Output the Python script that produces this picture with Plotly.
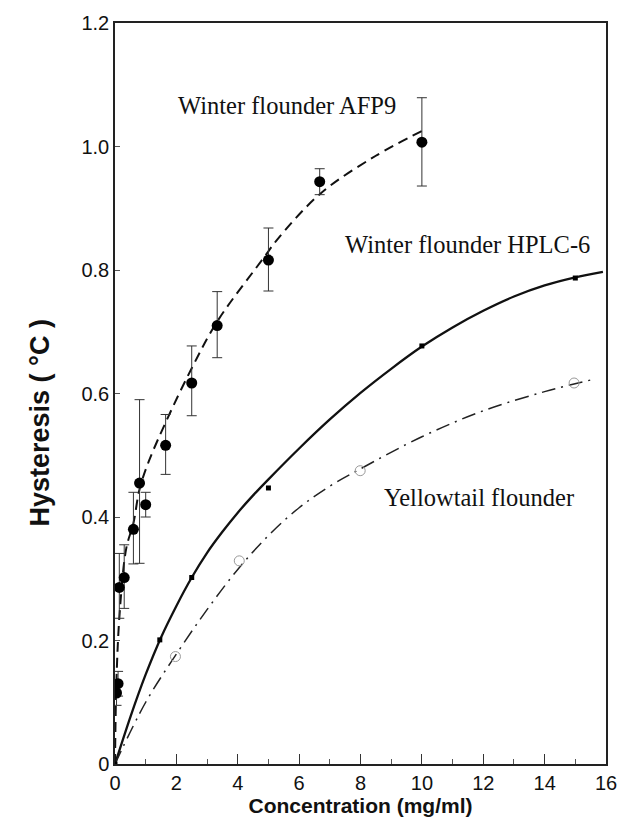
import plotly.graph_objects as go

# ---- data ----
afp9_x = [0.05, 0.1, 0.14, 0.3, 0.6, 0.8, 1.0, 1.65, 2.5, 3.33, 5.0, 6.67, 10.0]
afp9_y = [0.115, 0.13, 0.286, 0.302, 0.38, 0.455, 0.42, 0.516, 0.617, 0.71, 0.816, 0.943, 1.007]
afp9_err_plus = [0.02, 0.02, 0.055, 0.053, 0.06, 0.135, 0.02, 0.05, 0.06, 0.055, 0.052, 0.021, 0.072]
afp9_err_minus = [0.02, 0.02, 0.05, 0.05, 0.056, 0.13, 0.02, 0.047, 0.053, 0.052, 0.05, 0.021, 0.071]

afp9_fit_x = [0, 0.05, 0.16, 0.37, 0.6, 0.8, 1.1, 1.65, 2.5, 3.35, 4.85, 5.3, 6.7, 8.5, 10.0]
afp9_fit_y = [0, 0.14, 0.25, 0.35, 0.39, 0.445, 0.49, 0.553, 0.641, 0.718, 0.82, 0.85, 0.924, 0.985, 1.025]

hplc_x = [0, 1.46, 2.5, 5.0, 10.0, 15.0]
hplc_y = [0, 0.201, 0.302, 0.447, 0.677, 0.787]

hplc_fit_x = [0, 0.5, 1, 1.5, 2, 2.5, 3, 3.5, 4, 4.5, 5, 6, 7, 8, 9, 10, 11, 12, 13, 14, 15, 15.9]
hplc_fit_y = [0, 0.076, 0.145, 0.205, 0.256, 0.302, 0.342, 0.376, 0.407, 0.435, 0.461, 0.511,
              0.558, 0.601, 0.64, 0.676, 0.707, 0.734, 0.757, 0.775, 0.788, 0.797]

yt_x = [1.97, 4.05, 7.99, 14.96]
yt_y = [0.174, 0.329, 0.475, 0.617]

yt_fit_x = [0, 1, 2, 3, 4, 5, 6, 7, 8, 10, 12, 14, 15.6]
yt_fit_y = [0, 0.1, 0.178, 0.25, 0.315, 0.37, 0.415, 0.45, 0.478, 0.53, 0.572, 0.603, 0.623]

x_ticks = [0, 2, 4, 6, 8, 10, 12, 14, 16]
x_tick_labels = ["0", "2", "4", "6", "8", "10", "12", "14", "16"]
y_ticks = [0, 0.2, 0.4, 0.6, 0.8, 1.0, 1.2]
y_tick_labels = ["0", "0.2", "0.4", "0.6", "0.8", "1.0", "1.2"]

labels = ["Winter flounder AFP9", "Winter flounder HPLC-6", "Yellowtail flounder"]
label_x = [5.6, 11.5, 11.85]
label_y = [1.066, 0.842, 0.431]

fig = go.Figure()

# fitted curves
fig.add_trace(go.Scatter(x=afp9_fit_x, y=afp9_fit_y, mode="lines", line_shape="spline",
                         line=dict(color="#111", width=2, dash="10px,6px"), hoverinfo="skip"))
fig.add_trace(go.Scatter(x=hplc_fit_x, y=hplc_fit_y, mode="lines", line_shape="spline",
                         line=dict(color="#111", width=2.3, smoothing=0.8), hoverinfo="skip"))
fig.add_trace(go.Scatter(x=yt_fit_x, y=yt_fit_y, mode="lines", line_shape="spline",
                         line=dict(color="#222", width=1.5, dash="14px,6px,2px,6px"), hoverinfo="skip"))

# data points
fig.add_trace(go.Scatter(x=afp9_x, y=afp9_y, mode="markers",
                         marker=dict(symbol="circle", size=11, color="#000"),
                         error_y=dict(type="data", array=afp9_err_plus, arrayminus=afp9_err_minus,
                                      symmetric=False, color="#333", thickness=1, width=5)))
fig.add_trace(go.Scatter(x=hplc_x, y=hplc_y, mode="markers",
                         marker=dict(symbol="square", size=5, color="#000")))
fig.add_trace(go.Scatter(x=yt_x, y=yt_y, mode="markers",
                         marker=dict(symbol="circle-open", size=10, color="#999", line=dict(width=1))))

for t, ax, ay in zip(labels, label_x, label_y):
    fig.add_annotation(x=ax, y=ay, text=t, showarrow=False, xref="x", yref="y",
                       font=dict(family="Liberation Serif", size=24.5, color="#111"))

# y-axis title placed as rotated text
fig.add_annotation(x=-0.152, y=0.46, xref="paper", yref="paper", text="<b>Hysteresis ( °C )</b>",
                   textangle=-90, showarrow=False, xanchor="center", yanchor="middle",
                   font=dict(family="Liberation Sans", size=27, color="#111"))

fig.update_layout(
    width=629, height=826,
    margin=dict(l=115, r=13, t=16, b=61),
    paper_bgcolor="white", plot_bgcolor="white",
    showlegend=False,
    font=dict(family="Liberation Sans", color="#111"),
)
fig.update_xaxes(range=[0, 16], tickvals=x_ticks, ticktext=x_tick_labels,
                 ticks="inside", ticklen=10, tickwidth=1, tickcolor="#333",
                 minor=dict(dtick=1, ticks="inside", ticklen=5, tickcolor="#555"),
                 showline=True, linecolor="#222", linewidth=1.5, mirror=True,
                 showgrid=False, zeroline=False,
                 tickfont=dict(size=20, family="Liberation Sans"),
                 title=dict(text="<b>Concentration (mg/ml)</b>", font=dict(size=21, family="Liberation Sans"), standoff=6))
fig.update_yaxes(range=[0, 1.2], tickvals=y_ticks, ticktext=y_tick_labels,
                 ticks="inside", ticklen=5, tickwidth=1, tickcolor="#555",
                 showline=True, linecolor="#222", linewidth=1.5, mirror=True,
                 showgrid=False, zeroline=False,
                 tickfont=dict(size=20, family="Liberation Sans"))

fig.write_html("out.html")
